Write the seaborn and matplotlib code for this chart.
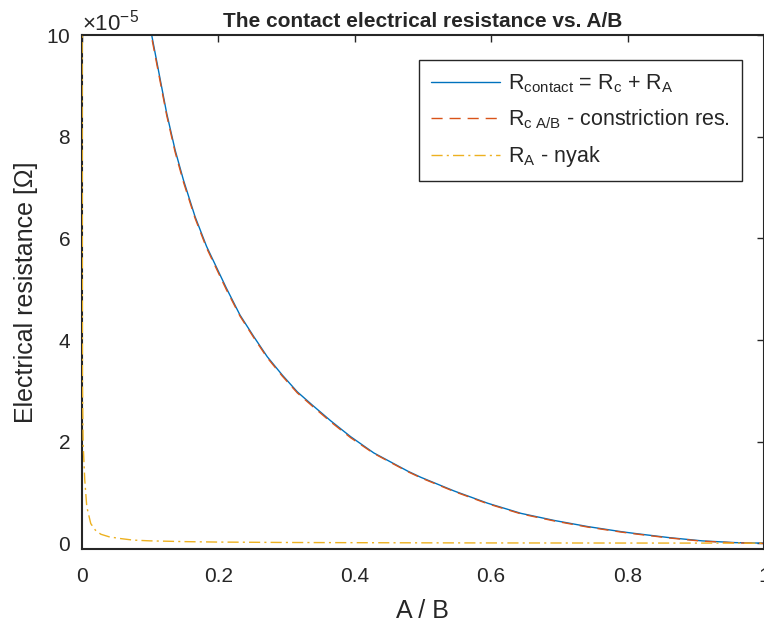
import matplotlib
matplotlib.use("Agg")
from matplotlib import pyplot as plt
from matplotlib.ticker import ScalarFormatter
import pandas as pd
import seaborn as sns

# values (resistance in ohm)
x_total = [0.100, 0.1025, 0.1245, 0.1368, 0.149, 0.166, 0.183, 0.212, 0.232, 0.252,
           0.272, 0.294, 0.316, 0.338, 0.365, 0.394, 0.428, 0.478, 0.497, 0.546,
           0.595, 0.644, 0.693, 0.742, 0.791, 0.811, 0.860, 0.909, 0.958, 1.000]
r_contact = [10.3e-5, 10.0e-5, 8.46e-5, 7.74e-5, 7.15e-5, 6.43e-5, 5.84e-5, 5.02e-5, 4.49e-5, 4.07e-5,
             3.67e-5, 3.31e-5, 2.98e-5, 2.72e-5, 2.41e-5, 2.10e-5, 1.78e-5, 1.42e-5, 1.30e-5, 1.03e-5,
             0.79e-5, 0.59e-5, 0.45e-5, 0.33e-5, 0.23e-5, 0.195e-5, 0.115e-5, 0.05e-5, 0.015e-5, 0.005e-5]
r_constr = [10.25e-5, 9.95e-5, 8.42e-5, 7.70e-5, 7.11e-5, 6.40e-5, 5.81e-5, 4.99e-5, 4.47e-5, 4.05e-5,
            3.65e-5, 3.29e-5, 2.96e-5, 2.70e-5, 2.39e-5, 2.08e-5, 1.77e-5, 1.41e-5, 1.29e-5, 1.02e-5,
            0.78e-5, 0.58e-5, 0.44e-5, 0.32e-5, 0.222e-5, 0.187e-5, 0.108e-5, 0.044e-5, 0.01e-5, 0.0]

x_a = [0.0002, 0.0005, 0.001, 0.002, 0.0044, 0.0074, 0.0132, 0.020, 0.028, 0.040, 0.055,
       0.075, 0.100, 0.150, 0.200, 0.300, 0.400, 0.500, 0.600, 0.700, 0.800, 0.900, 1.000]
r_a = [12.0e-5, 10.0e-5, 3.2e-5, 1.97e-5, 1.25e-5, 0.72e-5, 0.39e-5, 0.26e-5, 0.18e-5, 0.13e-5, 0.098e-5,
       0.065e-5, 0.05e-5, 0.035e-5, 0.026e-5, 0.018e-5, 0.014e-5, 0.011e-5, 0.009e-5, 0.008e-5,
       0.007e-5, 0.006e-5, 0.005e-5]

x_ticks = [0, 0.2, 0.4, 0.6, 0.8, 1.0]
x_ticklabels = ["0", "0.2", "0.4", "0.6", "0.8", "1"]
y_ticks = [0, 2e-5, 4e-5, 6e-5, 8e-5, 10e-5]

labels = [r"R$_{\mathrm{contact}}$ = R$_{\mathrm{c}}$ + R$_{\mathrm{A}}$",
          r"R$_{\mathrm{c\ A/B}}$ - constriction res.",
          r"R$_{\mathrm{A}}$ - nyak"]

sns.set_style("white")
plt.rcParams["font.family"] = ["Liberation Sans", "DejaVu Sans"]
plt.rcParams["mathtext.fontset"] = "custom"
plt.rcParams["mathtext.rm"] = "Liberation Sans"
plt.rcParams["mathtext.it"] = "Liberation Sans:italic"
plt.rcParams["mathtext.bf"] = "Liberation Sans:bold"

axcol = "#262626"

df_total = pd.DataFrame({"x": x_total, "contact": r_contact, "constr": r_constr})
df_a = pd.DataFrame({"x": x_a, "ra": r_a})

fig = plt.figure(figsize=(7.64, 6.23), dpi=100)
ax = fig.add_axes([0.107, 0.1188, 0.893, 0.825])

sns.lineplot(data=df_total, x="x", y="contact", ax=ax, color="#0072BD", lw=1.0,
             label=labels[0], sort=False)
sns.lineplot(data=df_total, x="x", y="constr", ax=ax, color="#D95319", lw=1.0,
             label=labels[1], sort=False, linestyle=(0, (8, 5)))
sns.lineplot(data=df_a, x="x", y="ra", ax=ax, color="#EDB120", lw=1.0,
             label=labels[2], sort=False, linestyle=(0, (8, 3, 1.5, 3)), zorder=3)

ax.set_xlim(0, 1)
ax.set_ylim(-1.1e-6, 1e-4)
ax.set_xticks(x_ticks)
ax.set_xticklabels(x_ticklabels)
ax.set_yticks(y_ticks)
fmt = ScalarFormatter(useMathText=True)
fmt.set_powerlimits((-5, -5))
ax.yaxis.set_major_formatter(fmt)
ax.yaxis.get_offset_text().set_fontsize(16)
ax.yaxis.get_offset_text().set_color(axcol)

ax.tick_params(direction="in", length=5, width=1.0, colors=axcol, labelsize=15,
               top=True, right=True)
ax.tick_params(axis="x", pad=13)
ax.tick_params(axis="y", pad=8)
for s in ax.spines.values():
    s.set_color(axcol)
    s.set_linewidth(1.5)

ax.set_xlabel("A / B", fontsize=18, color=axcol, labelpad=9)
ax.set_ylabel("Electrical resistance [Ω]", fontsize=18, color=axcol, labelpad=6)
ax.set_title("The contact electrical resistance vs. A/B", fontsize=15,
             fontweight="bold", pad=6)

leg = ax.legend(loc="upper right", bbox_to_anchor=(0.968, 0.951), fontsize=15.5,
                handlelength=3.2, frameon=True, fancybox=False, framealpha=1,
                borderaxespad=0, labelspacing=0.6, borderpad=0.55, handletextpad=0.4)
leg.get_frame().set_edgecolor(axcol)
leg.get_frame().set_linewidth(1.0)

fig.savefig("out.png", dpi=100)
